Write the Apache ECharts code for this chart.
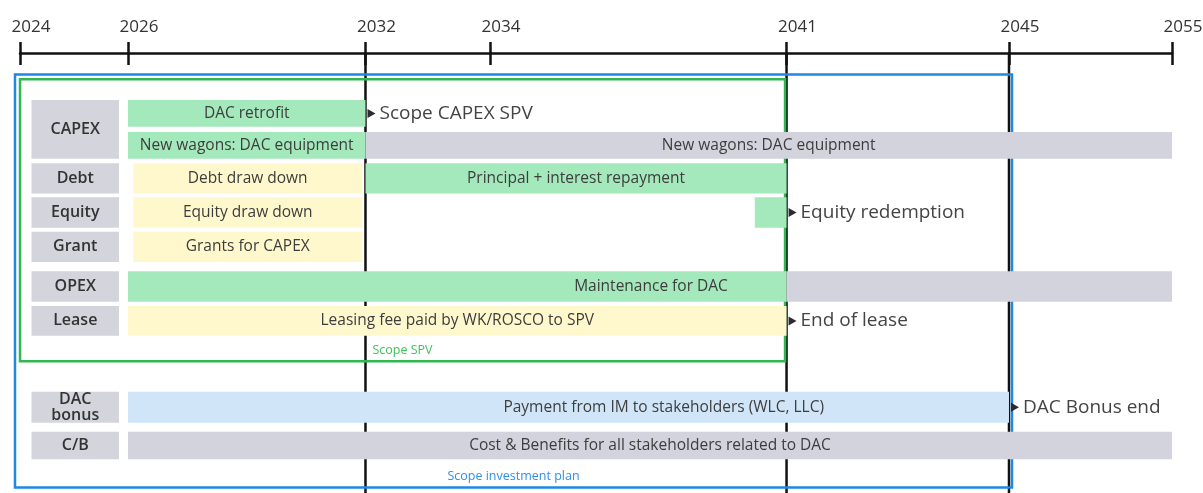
<!DOCTYPE html>
<html style="height: 100%">
<head>
<meta charset="utf-8">
</head>
<body style="height: 100%; margin: 0; background: #fff">
<div id="container" style="height: 100%"></div>
<script type="text/javascript" src="https://cdn.jsdelivr.net/npm/echarts@6/dist/echarts.min.js"></script>
<script type="text/javascript">
// ---- data ----
var tickYears = [2024, 2026, 2032, 2034, 2041, 2045, 2055];
var milestoneYears = [2032, 2041, 2045];

// grey boxes on the left: [label, first row, last row]
var rowGroups = [
    ['CAPEX', 0, 1], ['Debt', 2, 2], ['Equity', 3, 3], ['Grant', 4, 4],
    ['OPEX', 5, 5], ['Lease', 6, 6], ['DAC\nbonus', 7, 7], ['C/B', 8, 8]
];

// [row, from, to, kind, text]
var bars = [
    [0, 2026, 2032, 'spv', 'DAC retrofit'],
    [1, 2026, 2032, 'spv', 'New wagons: DAC equipment'],
    [1, 2032, 2055, 'other', 'New wagons: DAC equipment'],
    [2, 2026.13, 2031.92, 'draw', 'Debt draw down'],
    [2, 2032, 2041, 'spv', 'Principal + interest repayment'],
    [3, 2026.13, 2031.92, 'draw', 'Equity draw down'],
    [3, 2040.25, 2041, 'spv', ''],
    [4, 2026.13, 2031.92, 'draw', 'Grants for CAPEX'],
    [5, 2026, 2041, 'spv', ''],
    [5, 2041, 2055, 'other', ''],
    [6, 2026, 2041, 'draw', 'Leasing fee paid by WK/ROSCO to SPV'],
    [7, 2026, 2045, 'bonus', ''],
    [8, 2026, 2055, 'other', 'Cost & Benefits for all stakeholders related to DAC']
];

// texts that run across two bars: [row, centre year, text]
var spanTexts = [
    [5, 2037.8, 'Maintenance for DAC'],
    [7, 2038.1, 'Payment from IM to stakeholders (WLC, LLC)']
];

// [row, year, text]
var markers = [
    [0, 2032, 'Scope CAPEX SPV'],
    [3, 2041, 'Equity redemption'],
    [6, 2041, 'End of lease'],
    [7, 2045, 'DAC Bonus end']
];

// [label, from, to, kind]
var scopes = [
    ['Scope investment plan', 2024, 2045, 'plan'],
    ['Scope SPV', 2024, 2041, 'spv']
];

// ---- layout / style ----
var tickPos = [0, 0.09375, 0.2999, 0.408, 0.6654, 0.8585, 1];
var rowCenter = [1.13, 2.06, 3.02, 4.01, 5.01, 6.16, 7.16, 9.67, 10.78];
var rowHeight = [0.78, 0.78, 0.88, 0.88, 0.88, 0.88, 0.86, 0.9, 0.8];
var scopeStyle = {
    plan: {top: 0, bottom: 12, padL: -5, padR: 3, color: '#1e88e5', text: '#2f8fe6'},
    spv: {top: 0.14, bottom: 8.33, padL: 0, padR: -1.5, color: '#2fb84f', text: '#3cc25a'}
};
var kindColor = {spv: '#a4e9bb', draw: '#fff8cd', other: '#d2d3dc', bonus: '#d0e6f8'};
var FONT = '"Open Sans", sans-serif';

function yearToPos(y) {
    for (var i = 1; i < tickYears.length; i++) {
        if (y <= tickYears[i]) {
            var t = (y - tickYears[i - 1]) / (tickYears[i] - tickYears[i - 1]);
            return tickPos[i - 1] + t * (tickPos[i] - tickPos[i - 1]);
        }
    }
    return tickPos[tickPos.length - 1];
}

var dom = document.getElementById('container');
var myChart = echarts.init(dom);

var option = {
    animation: false,
    grid: [
        {left: 20, right: 31, top: 53, bottom: 0, outerBoundsMode: 'none'},
        {left: 20, right: 31, top: 74.5, height: 413, outerBoundsMode: 'none'},
        {left: 31.5, width: 87.5, top: 74.5, height: 413, outerBoundsMode: 'none'}
    ],
    xAxis: [
        {
            gridIndex: 0, type: 'value', min: 0, max: 1, position: 'top',
            axisLine: {onZero: false, lineStyle: {color: '#111', width: 2.5}},
            axisTick: {customValues: tickPos, length: 11, lineStyle: {color: '#111', width: 2.5}},
            axisLabel: {
                customValues: tickPos, margin: 17, color: '#333',
                fontSize: 17, fontFamily: FONT, padding: [0, 0, 0, 22],
                formatter: function (v) {
                    var best = 0;
                    for (var i = 0; i < tickPos.length; i++) {
                        if (Math.abs(tickPos[i] - v) < Math.abs(tickPos[best] - v)) best = i;
                    }
                    return tickYears[best];
                }
            },
            splitLine: {show: false}
        },
        {
            gridIndex: 0, type: 'value', min: 0, max: 1, position: 'top',
            axisLine: {show: false, onZero: false},
            axisTick: {customValues: tickPos, inside: true, length: 12, lineStyle: {color: '#111', width: 2.5}},
            axisLabel: {show: false},
            splitLine: {show: false}
        },
        {gridIndex: 1, type: 'value', min: 0, max: 1, show: false},
        {gridIndex: 2, type: 'value', min: 0, max: 1, show: false}
    ],
    yAxis: [
        {gridIndex: 0, type: 'value', min: 0, max: 1, show: false},
        {gridIndex: 1, type: 'value', min: 0, max: 12, inverse: true, show: false},
        {gridIndex: 2, type: 'value', min: 0, max: 12, inverse: true, show: false}
    ],
    series: [
        {
            // milestone lines
            type: 'custom', xAxisIndex: 0, yAxisIndex: 0, z: 1,
            data: milestoneYears.map(function (y) { return [yearToPos(y), 0]; }),
            renderItem: function (params, api) {
                var x = api.coord([api.value(0), 0])[0];
                var cs = params.coordSys;
                return {
                    type: 'line',
                    shape: {x1: x, y1: cs.y, x2: x, y2: cs.y + cs.height},
                    style: {stroke: '#111', lineWidth: 2.5}
                };
            }
        },
        {
            // scope boxes
            type: 'custom', xAxisIndex: 2, yAxisIndex: 1, z: 2,
            data: scopes.map(function (s) {
                return [yearToPos(s[1]), yearToPos(s[2]), scopeStyle[s[3]].top, scopeStyle[s[3]].bottom];
            }),
            renderItem: function (params, api) {
                var s = scopes[params.dataIndex];
                var st = scopeStyle[s[3]];
                var p0 = api.coord([api.value(0), api.value(2)]);
                var p1 = api.coord([api.value(1), api.value(3)]);
                var x0 = p0[0] + st.padL, x1 = p1[0] + st.padR;
                return {
                    type: 'group',
                    children: [
                        {
                            type: 'rect',
                            shape: {x: x0, y: p0[1], width: x1 - x0, height: p1[1] - p0[1]},
                            style: {fill: 'none', stroke: st.color, lineWidth: 2.5}
                        },
                        {
                            type: 'text', x: (x0 + x1) / 2, y: p1[1] - 11,
                            style: {
                                text: s[0], fill: st.text, fontSize: 12.5, fontFamily: FONT,
                                align: 'center', verticalAlign: 'middle'
                            }
                        }
                    ]
                };
            }
        },
        {
            // bars
            type: 'custom', xAxisIndex: 2, yAxisIndex: 1, z: 3,
            data: bars.map(function (b) { return [yearToPos(b[1]), yearToPos(b[2]), rowCenter[b[0]]]; }),
            renderItem: function (params, api) {
                var b = bars[params.dataIndex];
                var p0 = api.coord([api.value(0), api.value(2)]);
                var p1 = api.coord([api.value(1), api.value(2)]);
                var h = api.size([0, rowHeight[b[0]]])[1];
                var children = [{
                    type: 'rect',
                    shape: {x: p0[0], y: p0[1] - h / 2, width: p1[0] - p0[0], height: h},
                    style: {fill: kindColor[b[3]]}
                }];
                if (b[4]) {
                    children.push({
                        type: 'text', x: (p0[0] + p1[0]) / 2, y: p0[1],
                        style: {
                            text: b[4], fill: '#3d3d3d', fontSize: 15.5, fontFamily: FONT,
                            align: 'center', verticalAlign: 'middle'
                        }
                    });
                }
                return {type: 'group', children: children};
            }
        },
        {
            // texts spanning two bars
            type: 'custom', xAxisIndex: 2, yAxisIndex: 1, z: 4,
            data: spanTexts.map(function (t) { return [yearToPos(t[1]), rowCenter[t[0]]]; }),
            renderItem: function (params, api) {
                var t = spanTexts[params.dataIndex];
                var p = api.coord([api.value(0), api.value(1)]);
                return {
                    type: 'text', x: p[0], y: p[1],
                    style: {
                        text: t[2], fill: '#3d3d3d', fontSize: 15.5, fontFamily: FONT,
                        align: 'center', verticalAlign: 'middle'
                    }
                };
            }
        },
        {
            // end markers
            type: 'custom', xAxisIndex: 2, yAxisIndex: 1, z: 4,
            data: markers.map(function (m) { return [yearToPos(m[1]), rowCenter[m[0]]]; }),
            renderItem: function (params, api) {
                var m = markers[params.dataIndex];
                var p = api.coord([api.value(0), api.value(1)]);
                return {
                    type: 'group',
                    children: [
                        {
                            type: 'polygon',
                            shape: {points: [[p[0] + 2, p[1] - 4.5], [p[0] + 2, p[1] + 4.5], [p[0] + 10, p[1]]]},
                            style: {fill: '#2a2a35'}
                        },
                        {
                            type: 'text', x: p[0] + 14, y: p[1],
                            style: {
                                text: m[2], fill: '#444', fontSize: 19, fontFamily: FONT,
                                align: 'left', verticalAlign: 'middle'
                            }
                        }
                    ]
                };
            }
        },
        {
            // row group boxes
            type: 'custom', xAxisIndex: 3, yAxisIndex: 2, z: 3,
            data: rowGroups.map(function (g) {
                return [0, 1, rowCenter[g[1]] - rowHeight[g[1]] / 2, rowCenter[g[2]] + rowHeight[g[2]] / 2];
            }),
            renderItem: function (params, api) {
                var g = rowGroups[params.dataIndex];
                var p0 = api.coord([api.value(0), api.value(2)]);
                var p1 = api.coord([api.value(1), api.value(3)]);
                return {
                    type: 'group',
                    children: [
                        {
                            type: 'rect',
                            shape: {x: p0[0], y: p0[1], width: p1[0] - p0[0], height: p1[1] - p0[1]},
                            style: {fill: '#d3d4dc'}
                        },
                        {
                            type: 'text', x: (p0[0] + p1[0]) / 2, y: (p0[1] + p1[1]) / 2,
                            style: {
                                text: g[0], fill: '#333', fontSize: 16, fontWeight: 600,
                                fontFamily: FONT, lineHeight: 16,
                                align: 'center', verticalAlign: 'middle'
                            }
                        }
                    ]
                };
            }
        }
    ]
};

myChart.setOption(option);
</script>
</body>
</html>
